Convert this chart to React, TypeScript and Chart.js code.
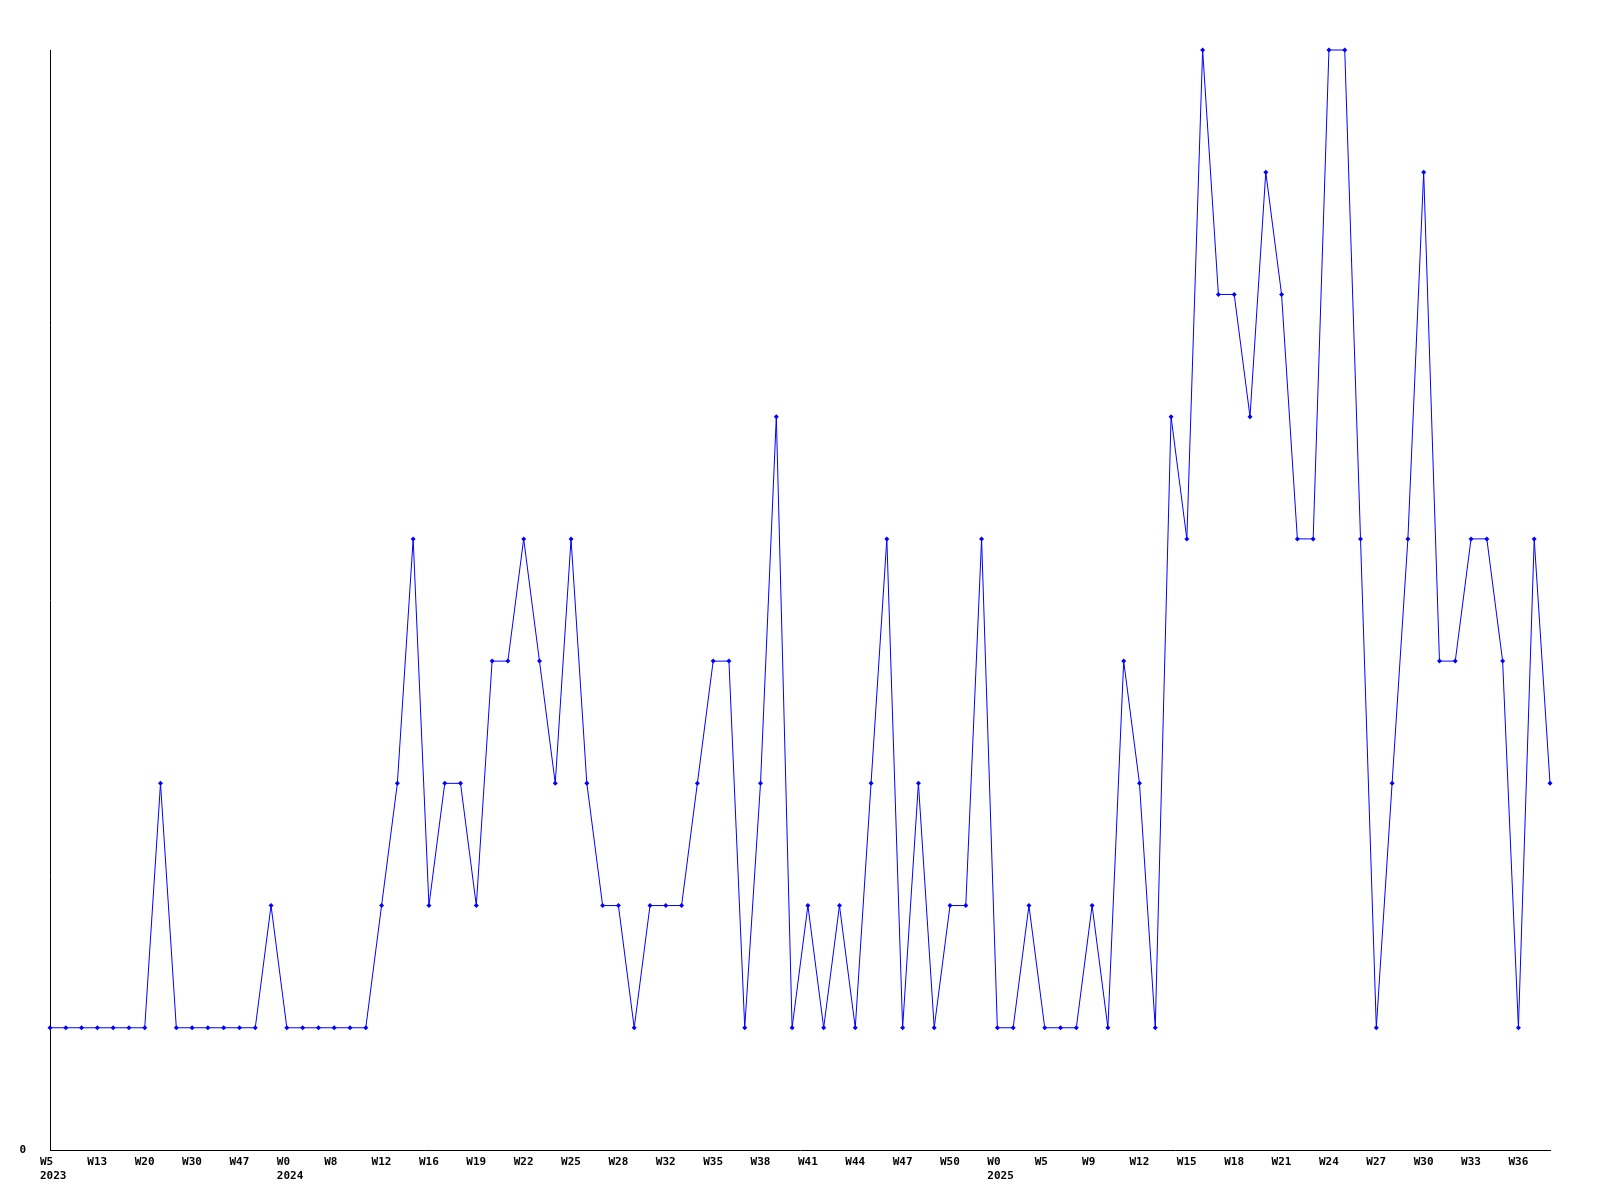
import React, { useEffect, useRef } from "react";
import { Chart, registerables } from "chart.js";

Chart.register(...registerables);

// Values per week (96 points)
const values: number[] = [
  1, 1, 1, 1, 1, 1, 1, 3, 1, 1, 1, 1, 1, 1, 2, 1, 1, 1, 1, 1, 1, 2, 3, 5,
  2, 3, 3, 2, 4, 4, 5, 4, 3, 5, 3, 2, 2, 1, 2, 2, 2, 3, 4, 4, 1, 3, 6, 1,
  2, 1, 2, 1, 3, 5, 1, 3, 1, 2, 2, 5, 1, 1, 2, 1, 1, 1, 2, 1, 4, 3, 1, 6,
  5, 9, 7, 7, 6, 8, 7, 5, 5, 9, 9, 5, 1, 3, 5, 8, 4, 4, 5, 5, 4, 1, 5, 3,
];

// Tick labels shown every third point
const weekLabels: string[] = [
  "W5", "W13", "W20", "W30", "W47", "W0", "W8", "W12", "W16", "W19", "W22",
  "W25", "W28", "W32", "W35", "W38", "W41", "W44", "W47", "W50", "W0", "W5",
  "W9", "W12", "W15", "W18", "W21", "W24", "W27", "W30", "W33", "W36",
];
const tickStep = 3;

// Year labels and the week-label slot they sit under
const yearLabels: string[] = ["2023", "2024", "2025"];
const yearSlots: number[] = [0, 5, 20];

const yMin = 0;
const yMax = 9;

export default function App() {
  const ref = useRef<HTMLCanvasElement | null>(null);

  useEffect(() => {
    if (!ref.current) return;
    const labels: (string | string[])[] = values.map((_, i) => {
      if (i % tickStep !== 0) return "";
      const slot = i / tickStep;
      const w = weekLabels[slot] ?? "";
      const yi = yearSlots.indexOf(slot);
      return yi >= 0 ? [w, yearLabels[yi]] : w;
    });

    const font = { family: "'DejaVu Sans Mono', monospace", size: 11, weight: "bold" as const, lineHeight: 1.3 };

    const chart = new Chart(ref.current, {
      type: "line",
      data: {
        labels,
        datasets: [
          {
            data: values,
            borderColor: "#0000ff",
            backgroundColor: "#0000ff",
            borderWidth: 1,
            pointStyle: "rectRot",
            pointRadius: 2.5,
            pointBorderWidth: 0,
            pointBackgroundColor: "#0000ff",
            tension: 0,
            fill: false,
            clip: false,
          },
        ],
      },
      options: {
        animation: false,
        responsive: false,
        maintainAspectRatio: false,
        events: [],
        layout: { padding: { top: 50, left: 20, right: 50, bottom: 0 } },
        plugins: {
          legend: { display: false },
          tooltip: { enabled: false },
          title: { display: false },
        },
        scales: {
          x: {
            type: "category",
            offset: false,
            grid: { display: false, drawTicks: false },
            border: { display: true, color: "#000000", width: 1 },
            ticks: {
              autoSkip: false,
              maxRotation: 0,
              minRotation: 0,
              align: "start",
              labelOffset: -10,
              padding: 5,
              color: "#000000",
              font,
            },
            afterFit: (scale: any) => {
              scale.height = 50;
            },
          },
          y: {
            min: yMin,
            max: yMax,
            grid: { display: false, drawTicks: false },
            border: { display: true, color: "#000000", width: 1 },
            ticks: {
              padding: 24,
              color: "#000000",
              font,
            },
            afterBuildTicks: (scale: any) => {
              scale.ticks = [{ value: yMin }];
            },
            afterFit: (scale: any) => {
              scale.width = 30;
            },
          },
        },
      },
    });
    return () => chart.destroy();
  }, []);

  return (
    <div style={{ position: "absolute", left: 0, top: 0, width: 1600, height: 1200, background: "#ffffff" }}>
      <canvas ref={ref} width={1600} height={1200} style={{ width: 1600, height: 1200 }} />
    </div>
  );
}
